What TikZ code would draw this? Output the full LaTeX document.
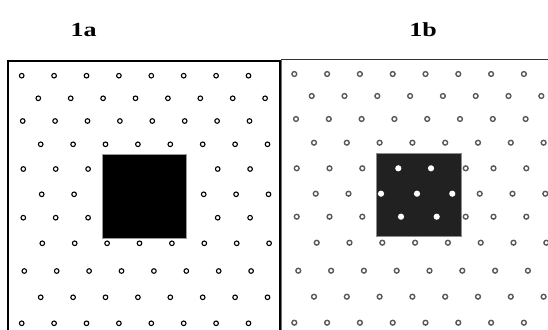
\documentclass[tikz,border=0pt]{standalone}
\usepackage{fontspec}
\setmainfont{Liberation Serif}

\tikzset{
  ringa/.style={draw=black, line width=1.1pt},
  ringb/.style={draw=black!65, line width=1.4pt},
  holeb/.style={fill=white},
  panellabel/.style={font=\fontsize{20}{20}\selectfont\bfseries, inner sep=0pt}
}

\begin{document}
\begin{tikzpicture}[x=1pt, y=-1pt]
      \useasboundingbox (0,0) rectangle (548,329);
      \node[panellabel] (lbla) at (83.7,29.5) {\scalebox{1.3}[1]{1a}};
      \node[panellabel] (lblb) at (423,30) {\scalebox{1.3}[1]{1b}};
      \begin{scope}
        \clip (0,0) rectangle (548,329);
        % panel 1a
        \fill[white] (8,61) rectangle (280,340);
        \fill[black] (102.7,154.3) rectangle (186.7,238.3);
        \draw[black!40, line width=0.6pt] (102.7,154.3) rectangle (186.7,238.3);
        \foreach \y/\xo/\lo/\hi in {75.7/21.7/9/9, 98.3/38.3/9/9, 121/22.7/9/9,
            144.3/40.7/9/9, 169/23.3/3/5, 194.3/41.7/2/4, 217.7/23.3/3/5,
            243.3/42.3/9/9, 271/24.3/9/9, 297.3/40.7/9/9, 323.3/21.7/9/9} {
          \foreach \i in {0,...,7} {
            \ifnum\i<\lo \draw[ringa] (\xo+32.4*\i,\y) circle (2.3);
            \else\ifnum\i>\hi \draw[ringa] (\xo+32.4*\i,\y) circle (2.3);
            \fi\fi
          }
        }
        \draw[line width=1.4pt] (280,340) -- (280,61) -- (8,61) -- (8,340);
        \draw[line width=1pt] (8,61) -- (8,340);
        % panel 1b
        \fill[black!87] (376.7,153.3) rectangle (461,236.7);
        \draw[black!45, line width=0.6pt] (376.7,153.3) rectangle (461,236.7);
        \foreach \y/\xo/\lo/\hi in {74/294.3/9/9, 96/311.7/9/9, 119/296/9/9,
            142.7/314/9/9, 168.3/296.7/3/5, 193.7/315.7/2/4, 216.7/296.7/3/5,
            242.7/316.7/9/9, 270.7/298.3/9/9, 296.7/314/9/9, 322.7/294.3/9/9} {
          \foreach \i in {0,...,7} {
            \ifnum\i<\lo \draw[ringb] (\xo+32.8*\i,\y) circle (2.4);
            \else\ifnum\i>\hi \draw[ringb] (\xo+32.8*\i,\y) circle (2.4);
            \fi\fi
          }
        }
        \draw[ringb] (465.7,168.3) circle (2.4);
        \draw[ringb] (465.7,216.7) circle (2.4);
        \foreach \x/\y in {398.3/168.3, 431/168.3, 381/193.7, 417/193.7,
            452.3/193.7, 401/216.7, 436.7/216.7}
          \fill[holeb] (\x,\y) circle (3.1);
        \draw[black!55, line width=0.8pt] (281,340) -- (281,59.5);
        \draw[black!80, line width=0.9pt] (281,59.5) -- (560,59.5);
      \end{scope}
\end{tikzpicture}
\end{document}
